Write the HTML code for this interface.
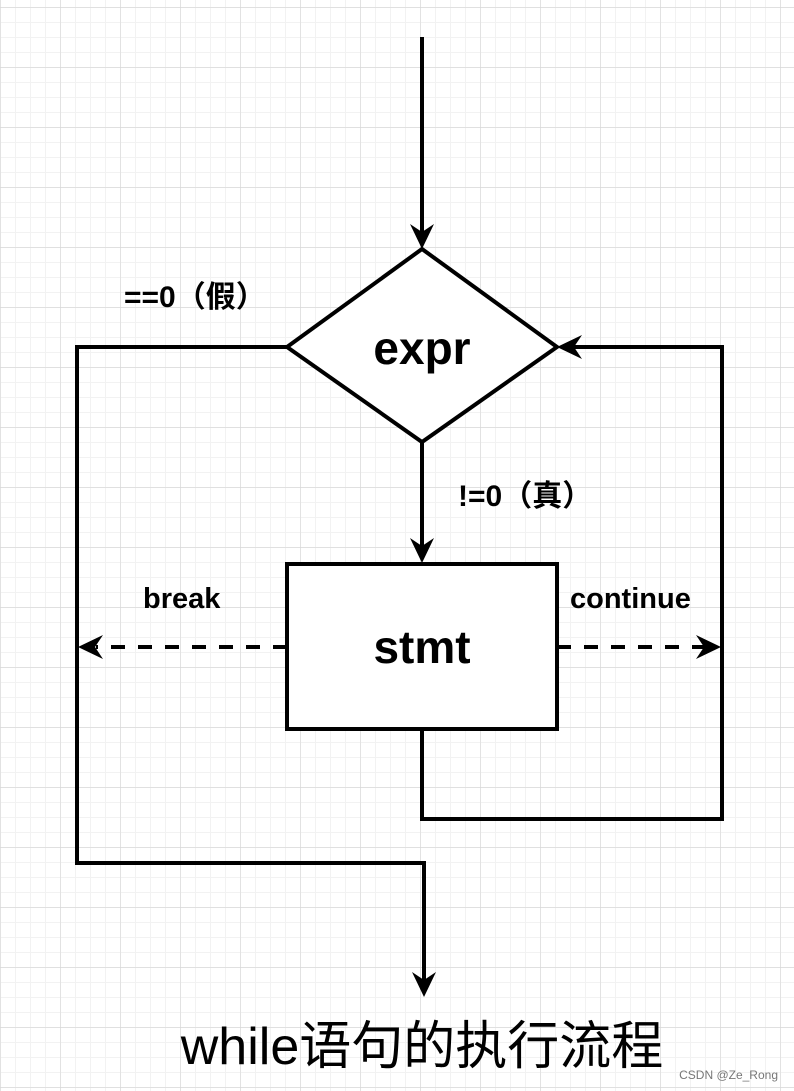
<!DOCTYPE html>
<html><head><meta charset="utf-8"><style>
html,body{margin:0;padding:0;background:#fff}
svg{display:block}
text{font-family:"Liberation Sans","Noto Sans CJK SC",sans-serif;fill:#000}
</style></head><body>
<svg width="794" height="1091" viewBox="0 0 794 1091" xmlns="http://www.w3.org/2000/svg">
<defs>
<pattern id="minor" x="0" y="7" width="15" height="15" patternUnits="userSpaceOnUse">
<path d="M0 0H15M0 0V15" stroke="#f2f2f2" stroke-width="2" fill="none"/>
</pattern>
<pattern id="major" x="0" y="7" width="60" height="60" patternUnits="userSpaceOnUse">
<path d="M0 0H60M0 0V60" stroke="#d6d6d6" stroke-width="1.2" fill="none"/>
</pattern>
</defs>
<rect width="794" height="1091" fill="#fff"/>
<rect width="794" height="1091" fill="url(#minor)"/>
<rect width="794" height="1091" fill="url(#major)"/>
<g stroke="#000" stroke-width="4" fill="none">
<line x1="422" y1="37" x2="422" y2="232"/>
<polygon points="287,347 422,249 557,347 422,442" fill="#fff"/>
<line x1="422" y1="442" x2="422" y2="546"/>
<rect x="287" y="564" width="270" height="165" fill="#fff"/>
<polyline points="422,729 422,819 722,819 722,347 574,347"/>
<polyline points="287,347 77,347 77,863 424,863 424,980"/>
<line x1="287" y1="647" x2="96" y2="647" stroke-dasharray="14,13"/>
<line x1="557" y1="647" x2="704" y2="647" stroke-dasharray="14,13"/>
</g>
<g fill="#000">
<polygon points="422,249 410,224 422,232 434,224"/>
<polygon points="422,563 410,538 422,546 434,538"/>
<polygon points="424,997 412,972 424,980 436,972"/>
<polygon points="557,347 582,335 574,347 582,359"/>
<polygon points="78,647 103,635 95,647 103,659"/>
<polygon points="721,647 696,635 704,647 696,659"/>
</g>
<text x="422" y="364" font-size="46" font-weight="bold" text-anchor="middle">expr</text>
<text x="422" y="663" font-size="46" font-weight="bold" text-anchor="middle">stmt</text>
<text x="124" y="307" font-size="30" font-weight="bold">==0（假）</text>
<text x="458" y="506" font-size="30" font-weight="bold">!=0（真）</text>
<text x="143" y="608" font-size="29" font-weight="bold">break</text>
<text x="570" y="608" font-size="29" font-weight="bold">continue</text>
<text x="422" y="1064" font-size="52" text-anchor="middle">while语句的执行流程</text>
<text x="778" y="1079" font-size="12" text-anchor="end" style="fill:#777">CSDN @Ze_Rong</text>
</svg>
</body></html>
